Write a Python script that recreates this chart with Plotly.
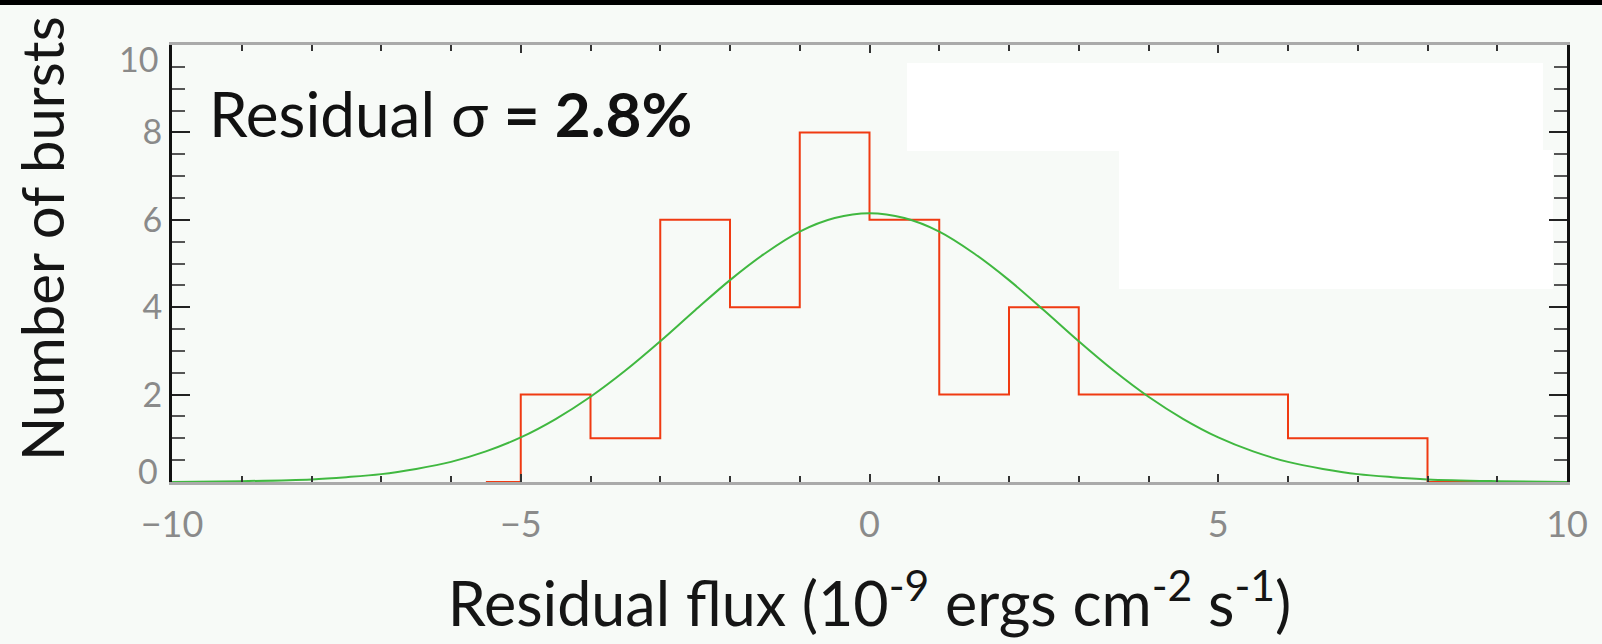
import plotly.graph_objects as go

# Histogram of residuals (bin width 1)
bin_edges = [-5, -4, -3, -2, -1, 0, 1, 2, 3, 4, 5, 6, 7, 8]
counts = [2, 1, 6, 4, 8, 6, 2, 4, 2, 2, 2, 1, 1, 0]
hist_start = -5.5
hist_end = 9.5

# Fitted gaussian curve
fit_x = [-10, -9, -8, -7.5, -7, -6.5, -6, -5.5, -5, -4.5, -4, -3.5, -3, -2.5, -2, -1.5, -1, -0.5,
         0, 0.5, 1, 1.5, 2, 2.5, 3, 3.5, 4, 4.5, 5, 5.5, 6, 6.5, 7, 7.5, 8, 9, 10]
fit_y = [0.0, 0.02, 0.06, 0.11, 0.18, 0.30, 0.46, 0.70, 1.02, 1.44, 1.95, 2.55, 3.22, 3.93, 4.62, 5.23, 5.73, 6.04,
         6.15, 6.04, 5.73, 5.23, 4.62, 3.93, 3.22, 2.55, 1.95, 1.44, 1.02, 0.70, 0.46, 0.30, 0.18, 0.11, 0.06, 0.02, 0.0]

x_ticks = [-10, -5, 0, 5, 10]
x_ticklabels = ["\u221210", "\u22125", "0", "5", "10"]
y_ticks = [0, 2, 4, 6, 8, 10]
y_ticklabels = ["", "2", "4", "6", "8", ""]

FONT = "Lato"
BG = "#f7faf7"

# plot-area pixel box
L, R, T, B = 172, 1567, 45, 482
W, H = R - L, B - T

step_x = [hist_start] + bin_edges + [hist_end]
step_y = [0] + counts + [0]

fig = go.Figure()
fig.add_trace(go.Scatter(x=step_x, y=step_y, mode="lines", line=dict(color="#f03a12", width=2, shape="hv"),
                         showlegend=False, hoverinfo="skip"))
fig.add_trace(go.Scatter(x=fit_x, y=fit_y, mode="lines", line=dict(color="#40b840", width=2, shape="spline"),
                         showlegend=False, hoverinfo="skip"))

fig.add_annotation(x=-9.5, y=8.45, xref="x", yref="y", xanchor="left", yanchor="middle",
                   text="Residual \u03c3 <b>= 2.8%</b>", showarrow=False,
                   font=dict(family=FONT, size=62, color="#111111"))

# end tick labels of the y axis (drawn slightly inside, as in the original)
for val, py in ((0, 470), (10, 58)):
    fig.add_annotation(x=(160 - L) / W, y=(B - py) / H, xref="paper", yref="paper",
                       xanchor="right", yanchor="middle", text=str(val), showarrow=False,
                       font=dict(family=FONT, size=34, color="#8a8a8a"))

# y axis title
fig.add_annotation(x=(41 - L) / W, y=(B - 239) / H, xref="paper", yref="paper",
                   xanchor="center", yanchor="middle", textangle=-90, text="Number of bursts",
                   showarrow=False, font=dict(family=FONT, size=58, color="#151515"))

# white patches in the background
fig.add_shape(type="rect", xref="paper", yref="paper", x0=(907 - L) / W, x1=(1543 - L) / W,
              y0=(B - 151) / H, y1=(B - 63) / H, fillcolor="white", line_width=0, layer="below")
fig.add_shape(type="rect", xref="paper", yref="paper", x0=(1119 - L) / W, x1=(1553 - L) / W,
              y0=(B - 289) / H, y1=(B - 150) / H, fillcolor="white", line_width=0, layer="below")

fig.update_layout(
    width=1602, height=644,
    margin=dict(l=L, r=1602 - R, t=T, b=644 - B),
    paper_bgcolor=BG, plot_bgcolor=BG,
    font=dict(family=FONT),
    xaxis=dict(range=[-10, 10], tickvals=x_ticks, ticktext=x_ticklabels,
               ticks="inside", ticklen=8, tickwidth=2, tickcolor="#333333",
               minor=dict(dtick=1, ticks="inside", ticklen=6, tickwidth=2, tickcolor="#333333"),
               showline=True, linecolor="#aaaaaa", linewidth=3, mirror="allticks",
               showgrid=False, zeroline=False, ticklabelstandoff=9,
               tickfont=dict(family=FONT, size=36, color="#8a8a8a"),
               title=dict(text="Residual flux (10<sup>-9</sup> ergs cm<sup>-2</sup> s<sup>-1</sup>)",
                          font=dict(family=FONT, size=61, color="#151515"), standoff=40)),
    yaxis=dict(range=[0, 10], tickvals=y_ticks, ticktext=y_ticklabels,
               ticks="inside", ticklen=18, tickwidth=2, tickcolor="#222222",
               minor=dict(dtick=0.5, ticks="inside", ticklen=13, tickwidth=2, tickcolor="#555555"),
               showline=True, linecolor="#111111", linewidth=3, mirror="allticks",
               showgrid=False, zeroline=False,
               tickfont=dict(family=FONT, size=34, color="#8a8a8a")),
)

# black band along the top edge
fig.add_shape(type="rect", xref="paper", yref="paper", x0=-1, x1=2, y0=(B - 5) / H, y1=(B + 10) / H,
              fillcolor="black", line_width=0, layer="above")

fig.write_html("out.html")
